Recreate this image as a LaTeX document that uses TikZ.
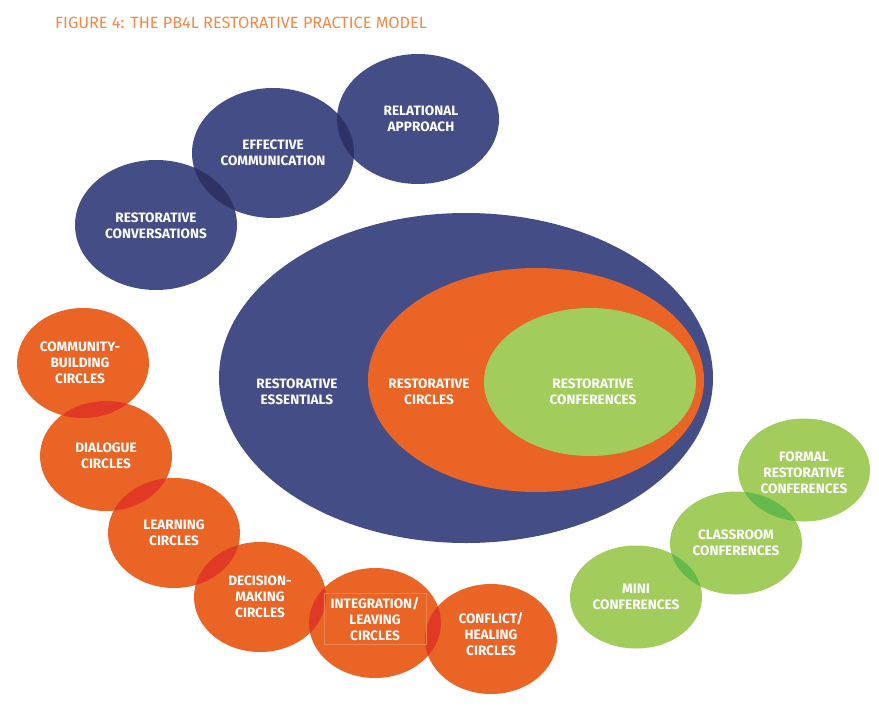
\documentclass[tikz,border=0pt]{standalone}
\usepackage{fontspec}
\setmainfont{Fira Sans}
\usetikzlibrary{shapes.geometric}
\definecolor{pbnavy}{RGB}{68, 77, 133}
\definecolor{pbnavydark}{RGB}{46, 50, 102}
\definecolor{pborange}{RGB}{233, 100, 37}
\definecolor{pbred}{RGB}{224, 58, 39}
\definecolor{pbgreen}{RGB}{162, 205, 93}
\definecolor{pbgreendark}{RGB}{102, 185, 75}
\definecolor{pbtitle}{RGB}{240, 137, 74}
\tikzset{
    bubble/.style={ellipse, inner sep=0pt, text=white, align=center,
        font=\bfseries\fontsize{13.6}{16}\selectfont},
    approach/.style={bubble, fill=pbnavy, minimum width=162pt, minimum height=130pt},
    circletype/.style={bubble, fill=pborange, minimum width=132pt, minimum height=110pt},
    conference/.style={bubble, fill=pbgreen, minimum width=132pt, minimum height=103pt}
}

\begin{document}
\begin{tikzpicture}[x=1pt, y=-1pt]

    \useasboundingbox (0, 0) rectangle (879, 715);

    \node[anchor=base west, text=pbtitle, inner sep=0pt,
        font=\fontsize{16.3}{19}\selectfont] (title) at (55, 28)
        {FIGURE 4: THE PB4L RESTORATIVE PRACTICE MODEL};

    % nested model
    \node[bubble, fill=pbnavy, minimum width=494pt, minimum height=330pt]
        (essentials) at (466, 378) {};
    \node[bubble, fill=pborange, minimum width=336pt, minimum height=224pt]
        (circles) at (536, 380) {};
    \node[bubble, fill=pbgreen, minimum width=212pt, minimum height=148pt]
        (conferences) at (590, 382) {};
    \node[bubble] at (297, 392) {RESTORATIVE\\ESSENTIALS};
    \node[bubble] at (429, 392) {RESTORATIVE\\CIRCLES};
    \node[bubble] at (593, 392) {RESTORATIVE\\CONFERENCES};

    % approaches
    \node[approach] (conversations) at (156, 225) {};
    \node[approach] (communication) at (273, 153) {};
    \node[approach] (relational) at (418, 119) {};

    % circles
    \node[circletype] (community) at (83, 363) {};
    \node[circletype] (dialogue) at (106, 456) {};
    \node[circletype] (learning) at (174, 533) {};
    \node[circletype] (decision) at (260, 597) {};
    \node[circletype] (integration) at (375, 623) {};
    \node[circletype] (conflict) at (491, 639) {};

    % conferences
    \node[conference] (mini) at (636, 597) {};
    \node[conference] (classroom) at (736, 543) {};
    \node[conference] (formal) at (804, 470) {};

    % overlaps
    \foreach \ax/\ay/\bx/\by in {156/225/273/153, 273/153/418/119} {%
        \begin{scope}
            \clip (\ax, \ay) ellipse (81pt and 65pt);
            \fill[pbnavydark] (\bx, \by) ellipse (81pt and 65pt);
        \end{scope}
    };
    \foreach \ax/\ay/\bx/\by in {83/363/106/456, 106/456/174/533,
        174/533/260/597, 260/597/375/623, 375/623/491/639} {%
        \begin{scope}
            \clip (\ax, \ay) ellipse (66pt and 55pt);
            \fill[pbred] (\bx, \by) ellipse (66pt and 55pt);
        \end{scope}
    };
    \foreach \ax/\ay/\bx/\by in {636/597/736/543, 736/543/804/470} {%
        \begin{scope}
            \clip (\ax, \ay) ellipse (66pt and 51.5pt);
            \fill[pbgreendark] (\bx, \by) ellipse (66pt and 51.5pt);
        \end{scope}
    };

    % labels
    \node[bubble] at ([yshift=-1pt]conversations) {RESTORATIVE\\CONVERSATIONS};
    \node[bubble] at (communication) {EFFECTIVE\\COMMUNICATION};
    \node[bubble] at ([xshift=3pt]relational) {RELATIONAL\\APPROACH};

    \node[bubble] at ([xshift=-3pt]community) {COMMUNITY-\\BUILDING\\CIRCLES};
    \node[bubble] at (dialogue) {DIALOGUE\\CIRCLES};
    \node[bubble] at (learning) {LEARNING\\CIRCLES};
    \node[bubble] at (decision) {DECISION-\\MAKING\\CIRCLES};
    \node[bubble, draw=pborange!80!white, line width=0.4pt,
        minimum width=102pt, minimum height=51pt, rectangle]
        at ([yshift=4pt]integration) {INTEGRATION/\\LEAVING\\CIRCLES};
    \node[bubble] at ([yshift=5pt]conflict) {CONFLICT/\\HEALING\\CIRCLES};

    \node[bubble] at (mini) {MINI\\CONFERENCES};
    \node[bubble] at (classroom) {CLASSROOM\\CONFERENCES};
    \node[bubble] at ([yshift=-3pt]formal) {FORMAL\\RESTORATIVE\\CONFERENCES};

\end{tikzpicture}
\end{document}
